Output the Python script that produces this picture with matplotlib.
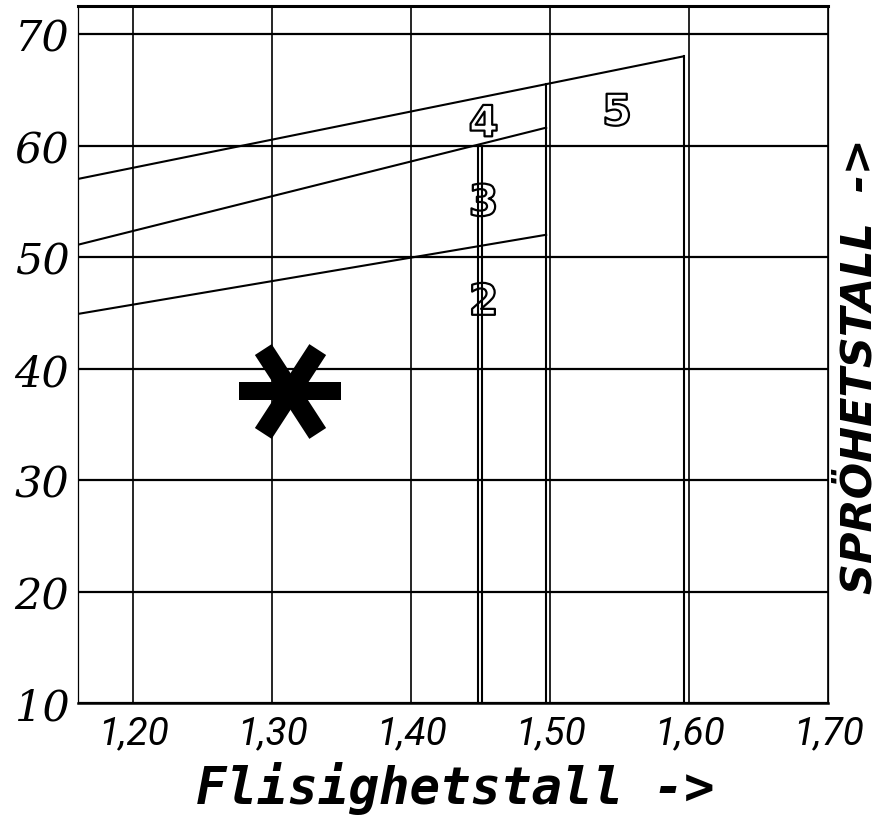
import numpy as np
import matplotlib
matplotlib.use('Agg')
import matplotlib.pyplot as plt
import matplotlib.patheffects as pe

# axis ticks
x_ticks = [1.20, 1.30, 1.40, 1.50, 1.60, 1.70]
x_ticklabels = ['1,20', '1,30', '1,40', '1,50', '1,60', '1,70']
y_ticks = [10, 20, 30, 40, 50, 60, 70]

# slanted boundaries (start/end)
low_x, low_y = [1.16, 1.497], [44.9, 52.0]
mid_x, mid_y = [1.16, 1.497], [51.1, 61.6]
high_x, high_y = [1.16, 1.596], [57.0, 68.0]

# vertical boundaries: x, top, bottom
vert_x = [1.448, 1.451, 1.497, 1.596]
vert_top = [60.0, 60.0, 65.5, 68.0]
vert_bot = [10, 10, 10, 10]

# zone numbers
zone_labels = ['2', '3', '4', '5']
zone_x = [1.452, 1.452, 1.452, 1.548]
zone_y = [45.9, 54.8, 61.9, 62.9]

# the measured point
star_x = [1.313]
star_y = [37.95]

DPI = 100
fig = plt.figure(figsize=(8.83, 8.2), dpi=DPI)
ax = fig.add_axes([0.0880, 0.1411, 0.8501, 0.8500])
ax.set_xlim(1.16, 1.70)
ax.set_ylim(10, 72.48)

# grid
for xv in x_ticks:
    ax.axvline(xv, color='black', lw=1.2, zorder=1)
for yv in y_ticks:
    ax.axhline(yv, color='black', lw=1.6, zorder=1)

# boundaries
for xs, ys in [(low_x, low_y), (mid_x, mid_y), (high_x, high_y)]:
    ax.plot(xs, ys, color='black', lw=1.5, zorder=2)
for xv, top, bot in zip(vert_x, vert_top, vert_bot):
    ax.plot([xv, xv], [bot, top], color='black', lw=1.5, zorder=2)

# zone numbers, outlined
for lab, zx, zy in zip(zone_labels, zone_x, zone_y):
    ax.text(zx, zy, lab, ha='center', va='center', fontsize=31,
            family='DejaVu Sans', weight='bold', color='none', zorder=4,
            path_effects=[pe.Stroke(linewidth=1.6, foreground='black')])


# asterisk marker built from three bars
def bar_marker(length, width, angle):
    t = np.deg2rad(angle)
    c, s = np.cos(t), np.sin(t)
    pts = np.array([[-length / 2, -width / 2], [length / 2, -width / 2],
                    [length / 2, width / 2], [-length / 2, width / 2],
                    [-length / 2, -width / 2]])
    rot = pts @ np.array([[c, s], [-s, c]])
    return rot, 2 * np.abs(rot).max() * 72 / DPI


for length, width, angle in [(103, 19, 0), (100, 20, 57), (100, 20, -57)]:
    verts, ms = bar_marker(length, width, angle)
    ax.plot(star_x, star_y, linestyle='none', marker=verts, markersize=ms,
            color='black', markeredgewidth=0, zorder=5)

# frame
ax.spines['top'].set_linewidth(2.2)
ax.spines['bottom'].set_linewidth(1.8)
ax.spines['left'].set_linewidth(0.9)
ax.spines['right'].set_linewidth(0.9)

ax.set_xticks(x_ticks)
ax.set_xticklabels(x_ticklabels, fontsize=28, style='italic',
                   family=['Roboto', 'DejaVu Sans'])
ax.set_yticks(y_ticks)
ax.set_yticklabels([str(v) for v in y_ticks], fontsize=31, style='italic',
                   family='DejaVu Serif')
ax.tick_params(axis='both', length=0)
ax.tick_params(axis='x', pad=8)
ax.tick_params(axis='y', pad=6)

fig.text(0.5158, 0.020, 'Flisighetstall ->', ha='center', va='baseline',
         fontsize=36.5, family='DejaVu Sans Mono', weight='bold', style='italic')
fig.text(0.9735, 0.5537, 'SPRÖHETSTALL  ->', ha='center', va='center',
         rotation=90, fontsize=31, weight='bold', style='italic',
         family='DejaVu Sans')

fig.savefig('out.png', dpi=DPI)
plt.close(fig)
